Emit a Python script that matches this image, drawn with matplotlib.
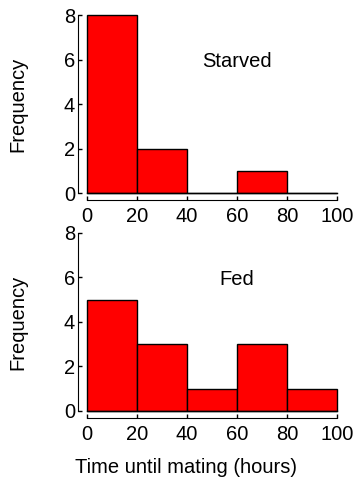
import matplotlib.pyplot as plt
import numpy as np

plt.rcParams['font.family'] = ['Liberation Sans', 'DejaVu Sans']

bin_edges = [0, 20, 40, 60, 80, 100]
starved = [8, 2, 0, 1, 0]
fed = [5, 3, 1, 3, 1]
panel_labels = ['Starved', 'Fed']

fig = plt.figure(figsize=(3.56, 4.78), dpi=100)
ax_top = fig.add_axes([0.2444, 0.5962, 0.7022, 0.3724])
ax_bot = fig.add_axes([0.2444, 0.1402, 0.7022, 0.3724])

for ax, counts, label in zip([ax_top, ax_bot], [starved, fed], panel_labels):
    lefts = np.array(bin_edges[:-1])
    widths = np.diff(bin_edges)
    ax.bar(lefts, counts, width=widths, align='edge', color='#ff0000',
           edgecolor='black', linewidth=1.0, clip_on=False)
    # baseline along the bottom of the bins
    ax.plot([bin_edges[0], bin_edges[-1]], [0, 0], color='black', lw=1.0,
            clip_on=False)
    ax.set_xlim(0, 100)
    ax.set_ylim(0, 8)
    ax.set_xticks([0, 20, 40, 60, 80, 100])
    ax.set_yticks([0, 2, 4, 6, 8])
    for s in ['top', 'right']:
        ax.spines[s].set_visible(False)
    ax.spines['left'].set_position(('outward', 6.5))
    ax.spines['bottom'].set_position(('outward', 5))
    ax.spines['left'].set_bounds(0, 8)
    ax.spines['bottom'].set_bounds(0, 100)
    ax.tick_params(direction='in', length=3, width=1, labelsize=14.5)
    ax.tick_params(axis='x', pad=5)
    ax.tick_params(axis='y', pad=2)
    ax.set_ylabel('Frequency', fontsize=14.5)
    ax.yaxis.set_label_coords(-0.24, 0.5)
    ax.text(60, 5.68, label, fontsize=14.5, ha='center', va='baseline')

ax_bot.set_xlabel('Time until mating (hours)', fontsize=14.5)
ax_bot.xaxis.set_label_coords(0.396, -0.262)

fig.savefig('out.png', dpi=100)
